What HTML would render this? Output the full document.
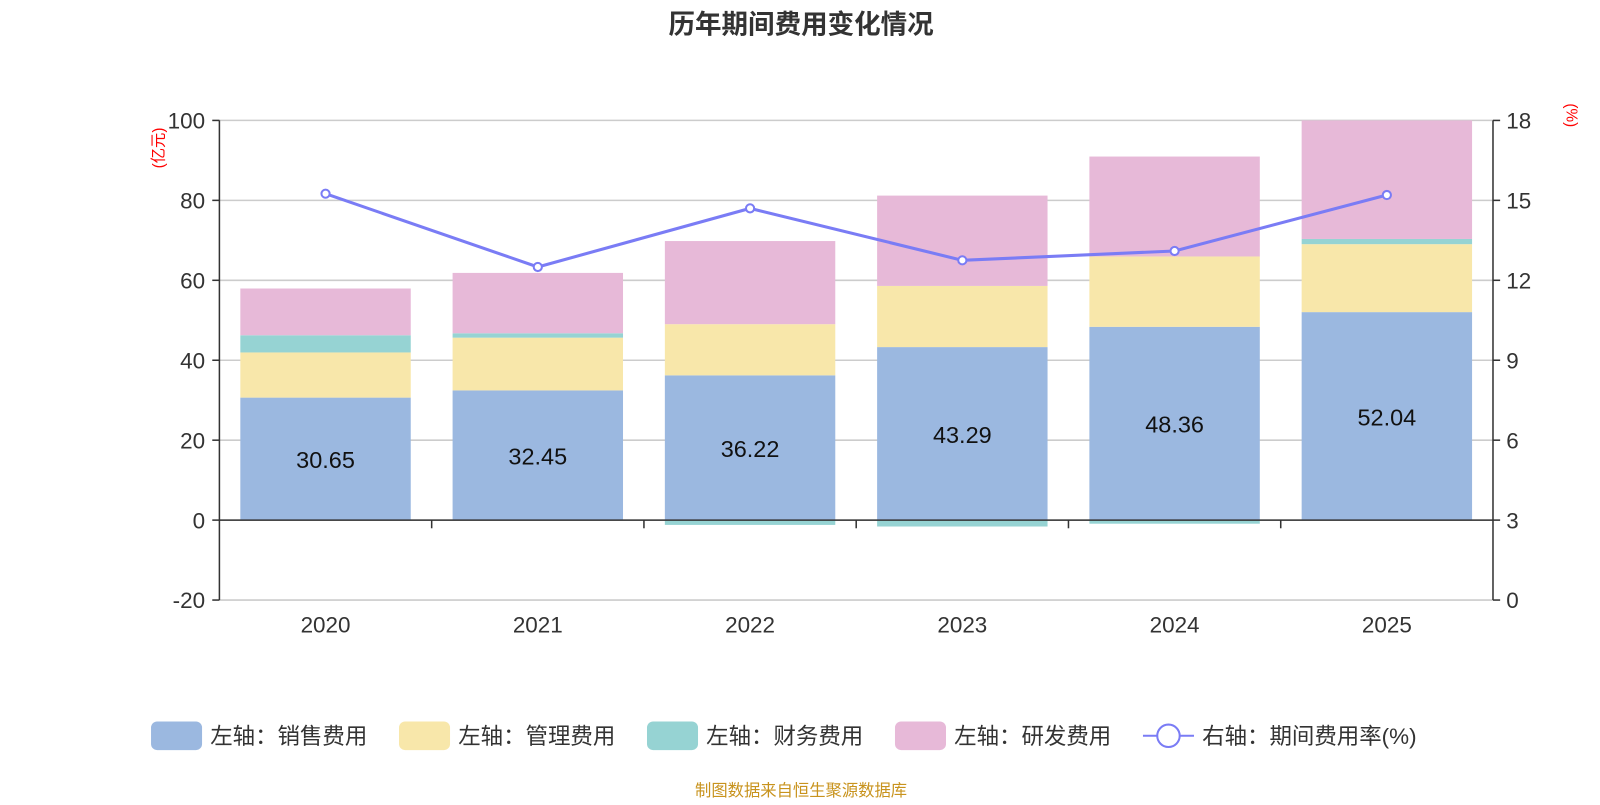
<!DOCTYPE html>
<html><head><meta charset="utf-8"><style>
body{margin:0;background:#fff;font-family:"Liberation Sans","Noto Sans CJK SC",sans-serif}
svg text{font-family:"Liberation Sans","Noto Sans CJK SC",sans-serif}
</style></head><body>
<svg id="c" width="1600" height="800" xmlns="http://www.w3.org/2000/svg">
<g transform="scale(1.0205)">
<text x="785" y="33" text-anchor="middle" font-size="26" font-weight="bold" fill="#333">历年期间费用变化情况</text>
<text transform="translate(160,145) rotate(-90)" text-anchor="middle" font-size="15" fill="red">(亿元)</text>
<text transform="translate(1535,113) rotate(90)" text-anchor="middle" font-size="15" fill="red">(%)</text>
<g id="grid"></g><g id="bars"></g><g id="axes"></g><g id="line"></g>
<g id="legend"></g>
<text x="785" y="780" text-anchor="middle" font-size="16" fill="#c8931d">制图数据来自恒生聚源数据库</text>
</g>
</svg>
<script>
const categories=["2020","2021","2022","2023","2024","2025"];
const sales=[30.65,32.45,36.22,43.29,48.36,52.04];
const admin=[11.3,13.2,12.8,15.3,17.6,17.0];
const finance=[4.3,1.1,-1.2,-1.6,-0.9,1.3];
const rnd=[11.7,15.1,20.8,22.6,25.0,30.0];
const rate=[15.25,12.5,14.7,12.75,13.1,15.2];
const leftTicks=[-20,0,20,40,60,80,100];
const rightTicks=[0,3,6,9,12,15,18];
const NS="http://www.w3.org/2000/svg";
const X0=215,X1=1463,YT=118,YB=588;
const yL=v=>YB-(v+20)/120*(YB-YT);
const yR=v=>YB-v/18*(YB-YT);
const band=(X1-X0)/categories.length;
const xC=i=>X0+band*(i+0.5);
function mk(tag,attrs,parent,text){const e=document.createElementNS(NS,tag);for(const k in attrs)e.setAttribute(k,attrs[k]);if(text!==undefined)e.textContent=text;document.getElementById(parent).appendChild(e);return e;}
leftTicks.forEach(t=>{
  const g=mk('line',{x1:X0,x2:X1,y1:yL(t),y2:yL(t),stroke:'#ccc','stroke-width':1.5},'grid');
  
  
  const l=mk('text',{x:X0-14,y:yL(t)+8,'text-anchor':'end','font-size':22,fill:'#333'},'axes',t);
  
  
  mk('line',{x1:X0-7,x2:X0,y1:yL(t),y2:yL(t),stroke:'#333','stroke-width':1.5},'axes');
});
rightTicks.forEach(t=>{
  const l=mk('text',{x:X1+13,y:yR(t)+8,'font-size':22,fill:'#333'},'axes',t);
  
  
  mk('line',{x1:X1,x2:X1+7,y1:yR(t),y2:yR(t),stroke:'#333','stroke-width':1.5},'axes');
});
mk('line',{x1:X0,x2:X0,y1:YT,y2:YB,stroke:'#333','stroke-width':1.5},'axes');
mk('line',{x1:X1,x2:X1,y1:YT,y2:YB,stroke:'#333','stroke-width':1.5},'axes');
mk('line',{x1:X0,x2:X1,y1:yL(0),y2:yL(0),stroke:'#333','stroke-width':1.5},'axes');
categories.forEach((c,i)=>{
  if(i>0)mk('line',{x1:X0+band*i,x2:X0+band*i,y1:yL(0),y2:yL(0)+8,stroke:'#333','stroke-width':1.5},'axes');
  const l=mk('text',{x:xC(i),y:620,'text-anchor':'middle','font-size':22,fill:'#333'},'axes',c);
  
  
});
const bw=167;
const series=[[sales,'#9bb8e0','sales'],[admin,'#f8e7aa','admin'],[finance,'#96d3d3','finance'],[rnd,'#e7b9d8','rnd']];
categories.forEach((c,i)=>{
  let pos=0,neg=0;
  series.forEach(([arr,col,nm])=>{
    const v=arr[i];let a,b;
    if(v>=0){a=pos;b=Math.min(pos+v,100);pos+=v;}else{a=neg+v;b=neg;neg+=v;}
    if(b<=a)return;
    const r=mk('rect',{x:xC(i)-bw/2,y:yL(b),width:bw,height:yL(a)-yL(b),fill:col},'bars');
    
    
  });
  const t=mk('text',{x:xC(i),y:yL(sales[i]/2)+9,'text-anchor':'middle','font-size':23,fill:'#111'},'bars',sales[i].toFixed(2));
  
  
});
const pl=mk('polyline',{points:rate.map((v,i)=>xC(i)+','+yR(v)).join(' '),fill:'none',stroke:'#7a7cf5','stroke-width':3},'line');


rate.forEach((v,i)=>{
  const p=mk('circle',{cx:xC(i),cy:yR(v),r:4,fill:'#fff',stroke:'#7a7cf5','stroke-width':2},'line');
  
  
});
const leg=[['左轴：销售费用','#9bb8e0',148],['左轴：管理费用','#f8e7aa',391],['左轴：财务费用','#96d3d3',634],['左轴：研发费用','#e7b9d8',877]];
leg.forEach(([t,col,x])=>{
  const g=mk('g',{},'legend');
  
  
  const r=document.createElementNS(NS,'rect');
  r.setAttribute('x',x);r.setAttribute('y',707);r.setAttribute('width',50);r.setAttribute('height',28);r.setAttribute('rx',6);r.setAttribute('fill',col);g.appendChild(r);
  const tx=document.createElementNS(NS,'text');
  tx.setAttribute('x',x+58);tx.setAttribute('y',729);tx.setAttribute('font-size',22);tx.setAttribute('fill','#333');tx.textContent=t;g.appendChild(tx);
});
const lg=mk('g',{},'legend');


lg.innerHTML='<line x1="1120" x2="1170" y1="721" y2="721" stroke="#7a7cf5" stroke-width="2"/><circle cx="1145" cy="721" r="11" fill="#fff" stroke="#7a7cf5" stroke-width="2"/><text x="1178" y="729" font-size="22" fill="#333">右轴：期间费用率(%)</text>';
</script>
</body></html>
